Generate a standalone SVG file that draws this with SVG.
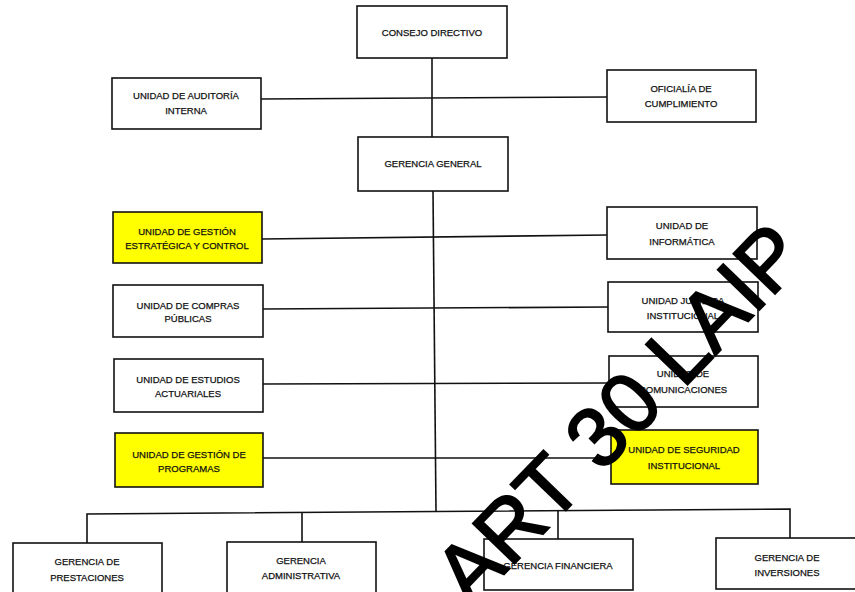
<svg xmlns="http://www.w3.org/2000/svg" width="855" height="592" viewBox="0 0 855 592">
<style>
  .box { fill: #ffffff; stroke: #111111; stroke-width: 1.6; }
  .hl { fill: #ffff00; }
  .lbl { font-family: "Liberation Sans", Arial, sans-serif; font-size: 9.5px; fill: #111111; stroke: #111111; stroke-width: 0.25; text-anchor: middle; }
  .conn { fill: none; stroke: #111111; stroke-width: 1.6; }
  .wm { font-family: "Liberation Sans", Arial, sans-serif; font-size: 84px; fill: #000000; stroke: #000000; stroke-width: 2; text-anchor: middle; }
</style>
<rect width="855" height="592" fill="#ffffff"/>
<g id="connectors">
  <line class="conn" x1="432" y1="58" x2="432" y2="137"/>
  <line class="conn" x1="261" y1="99" x2="607" y2="97"/>
  <line class="conn" x1="433" y1="191" x2="436" y2="512"/>
  <line class="conn" x1="262" y1="239" x2="607" y2="235"/>
  <line class="conn" x1="263" y1="309" x2="608" y2="307"/>
  <line class="conn" x1="263" y1="384" x2="609" y2="383"/>
  <line class="conn" x1="263" y1="458" x2="611" y2="458"/>
  <polyline class="conn" points="87,543 87,514 790,509 790,538"/>
  <line class="conn" x1="302" y1="513" x2="302" y2="542"/>
  <line class="conn" x1="558" y1="511" x2="558" y2="539"/>
</g>
<g id="consejo-directivo">
  <rect class="box" x="357" y="6" width="150" height="52"/>
  <text class="lbl" x="432" y="35.5">CONSEJO DIRECTIVO</text>
</g>
<g id="auditoria-interna">
  <rect class="box" x="112" y="78" width="149" height="51"/>
  <text class="lbl" x="186" y="98.5">UNIDAD DE AUDITORÍA</text>
  <text class="lbl" x="186" y="113.5">INTERNA</text>
</g>
<g id="oficialia-cumplimiento">
  <rect class="box" x="607" y="70" width="149" height="52"/>
  <text class="lbl" x="681" y="91.5">OFICIALÍA DE</text>
  <text class="lbl" x="681" y="106.5">CUMPLIMIENTO</text>
</g>
<g id="gerencia-general">
  <rect class="box" x="358" y="137" width="150" height="54"/>
  <text class="lbl" x="433" y="166.5">GERENCIA GENERAL</text>
</g>
<g id="gestion-estrategica">
  <rect class="box hl" x="113" y="212" width="149" height="51"/>
  <text class="lbl" x="187" y="234.5">UNIDAD DE GESTIÓN</text>
  <text class="lbl" x="187" y="248.5">ESTRATÉGICA Y CONTROL</text>
</g>
<g id="compras-publicas">
  <rect class="box" x="113" y="285" width="150" height="52"/>
  <text class="lbl" x="188" y="308.5">UNIDAD DE COMPRAS</text>
  <text class="lbl" x="188" y="321.5">PÚBLICAS</text>
</g>
<g id="estudios-actuariales">
  <rect class="box" x="114" y="359" width="149" height="53"/>
  <text class="lbl" x="188" y="382.5">UNIDAD DE ESTUDIOS</text>
  <text class="lbl" x="188" y="396.5">ACTUARIALES</text>
</g>
<g id="gestion-programas">
  <rect class="box hl" x="115" y="433" width="148" height="54"/>
  <text class="lbl" x="189" y="457.5">UNIDAD DE GESTIÓN DE</text>
  <text class="lbl" x="189" y="471.5">PROGRAMAS</text>
</g>
<g id="informatica">
  <rect class="box" x="607" y="207" width="150" height="52"/>
  <text class="lbl" x="682" y="228.5">UNIDAD DE</text>
  <text class="lbl" x="682" y="244.5">INFORMÁTICA</text>
</g>
<g id="juridica">
  <rect class="box" x="608" y="282" width="150" height="50"/>
  <text class="lbl" x="683" y="303.5">UNIDAD JURÍDICA</text>
  <text class="lbl" x="683" y="318.5">INSTITUCIONAL</text>
</g>
<g id="comunicaciones">
  <rect class="box" x="609" y="356" width="149" height="51"/>
  <text class="lbl" x="683" y="376.5">UNIDAD DE</text>
  <text class="lbl" x="683" y="392.5">COMUNICACIONES</text>
</g>
<g id="seguridad-institucional">
  <rect class="box hl" x="611" y="430" width="147" height="54"/>
  <text class="lbl" x="684" y="452.5">UNIDAD DE SEGURIDAD</text>
  <text class="lbl" x="684" y="468.5">INSTITUCIONAL</text>
</g>
<g id="gerencia-prestaciones">
  <rect class="box" x="13" y="543" width="149" height="60"/>
  <text class="lbl" x="87" y="564.5">GERENCIA DE</text>
  <text class="lbl" x="87" y="580.5">PRESTACIONES</text>
</g>
<g id="gerencia-administrativa">
  <rect class="box" x="227" y="542" width="149" height="60"/>
  <text class="lbl" x="301" y="563.5">GERENCIA</text>
  <text class="lbl" x="301" y="578.5">ADMINISTRATIVA</text>
</g>
<g id="gerencia-financiera">
  <rect class="box" x="484" y="539" width="149" height="51"/>
  <text class="lbl" x="558" y="568.5">GERENCIA FINANCIERA</text>
</g>
<g id="gerencia-inversiones">
  <rect class="box" x="716" y="538" width="140" height="51"/>
  <text class="lbl" x="787" y="560.5">GERENCIA DE</text>
  <text class="lbl" x="787" y="575.5">INVERSIONES</text>
</g>
<g id="watermark">
  <text class="wm" transform="translate(594,438) rotate(-46)" x="0" y="30">A ART 30 LAIP</text>
</g>
</svg>
